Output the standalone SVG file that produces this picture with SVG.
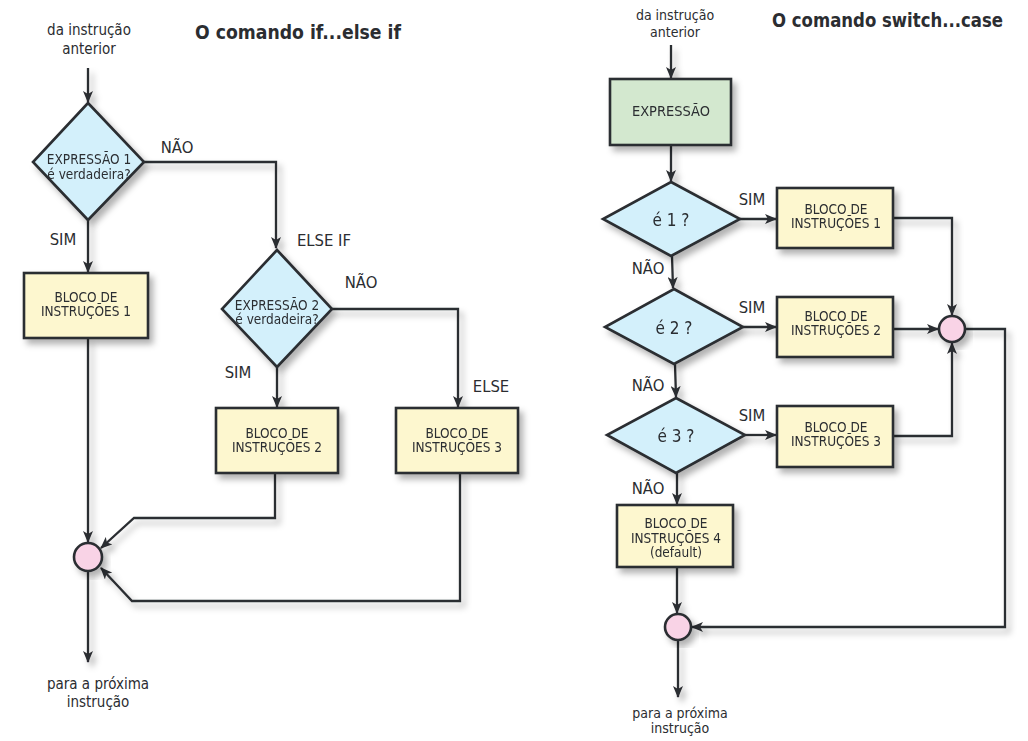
<svg xmlns="http://www.w3.org/2000/svg" width="1028" height="741" viewBox="0 0 1028 741">
<style>
text{font-family:"DejaVu Sans Condensed","DejaVu Sans","Liberation Sans",sans-serif;fill:#2b2d31;text-anchor:middle}
.t{font-size:15px}
.lb{font-size:16.5px}
.title{font-size:20px;font-weight:bold;text-anchor:start}
.bx{font-size:13.5px}
.dt{font-size:13.5px}
.q{font-size:17px}
.box{fill:#fdf7cf;stroke:#2b2d31;stroke-width:2.6}
.green{fill:#d3e8cf;stroke:#2b2d31;stroke-width:2.6}
.dia{fill:#d3f0fb;stroke:#2b2d31;stroke-width:2.6}
.cir{fill:#f9d3e6;stroke:#2b2d31;stroke-width:2.6}
.c{fill:none;stroke:#2b2d31;stroke-width:2.3;stroke-linejoin:miter}
.a{marker-end:url(#arr)}
</style>
<defs>
<filter id="sh" x="-30%" y="-30%" width="160%" height="160%">
<feDropShadow dx="4" dy="5" stdDeviation="3" flood-color="#000" flood-opacity="0.3"/>
</filter>
<marker id="arr" viewBox="0 0 12 10" refX="11" refY="5" markerWidth="12" markerHeight="10" markerUnits="userSpaceOnUse" orient="auto">
<path d="M0,0 L12,5 L0,10 L3,5 z" fill="#2b2d31"/>
</marker>
</defs>

<!-- Left: if...else if -->
<text class="title" x="195" y="39" textLength="206" lengthAdjust="spacingAndGlyphs">O comando if...else if</text>
<text class="t" x="89" y="35">da instrução</text>
<text class="t" x="89" y="54">anterior</text>

<g id="connectors-left" filter="url(#sh)">
<path class="c a" d="M88,68 L88,102"/>
<path class="c a" d="M144,162 L276,162 L276,248"/>
<path class="c a" d="M88,220 L88,272"/>
<path class="c a" d="M332,309 L458,309 L458,407"/>
<path class="c a" d="M277,367 L277,407"/>
<path class="c a" d="M88,338 L88,542"/>
<path class="c a" d="M275,473 L275,518 L134,518 L101,548"/>
<path class="c a" d="M460,473 L460,601 L132,601 L101,568"/>
<path class="c a" d="M88,571 L88,662"/>
</g>

<g id="dec1" filter="url(#sh)">
<polygon class="dia" points="88,103 144,162 88,220 33,162"/>
<text class="dt" x="89" y="164">EXPRESSÃO 1</text>
<text class="dt" x="89" y="179">é verdadeira?</text>
</g>
<text class="lb" x="177" y="153">NÃO</text>
<text class="lb" x="63" y="245">SIM</text>
<text class="lb" x="324" y="246">ELSE IF</text>

<g id="box1" filter="url(#sh)">
<rect class="box" x="24" y="273" width="124" height="65"/>
<text class="bx" x="86" y="302">BLOCO DE</text>
<text class="bx" x="86" y="316">INSTRUÇÕES 1</text>
</g>

<g id="dec2" filter="url(#sh)">
<polygon class="dia" points="277,250 332,309 277,367 222,309"/>
<text class="dt" x="277" y="310">EXPRESSÃO 2</text>
<text class="dt" x="277" y="324">é verdadeira?</text>
</g>
<text class="lb" x="361" y="288">NÃO</text>
<text class="lb" x="238" y="378">SIM</text>
<text class="lb" x="491" y="392">ELSE</text>

<g id="box2" filter="url(#sh)">
<rect class="box" x="216" y="408" width="122" height="65"/>
<text class="bx" x="277" y="438">BLOCO DE</text>
<text class="bx" x="277" y="452">INSTRUÇÕES 2</text>
</g>

<g id="box3" filter="url(#sh)">
<rect class="box" x="396" y="408" width="122" height="65"/>
<text class="bx" x="457" y="438">BLOCO DE</text>
<text class="bx" x="457" y="452">INSTRUÇÕES 3</text>
</g>

<g id="join-left" filter="url(#sh)">
<circle class="cir" cx="88" cy="557" r="14"/>
</g>
<text class="t" x="98" y="689">para a próxima</text>
<text class="t" x="98" y="707">instrução</text>

<!-- Right: switch...case -->
<text class="title" x="772" y="27" textLength="231" lengthAdjust="spacingAndGlyphs">O comando switch...case</text>
<text class="t" x="675" y="20" style="font-size:14px">da instrução</text>
<text class="t" x="675" y="37" style="font-size:14px">anterior</text>

<g id="connectors-right" filter="url(#sh)">
<path class="c a" d="M671,45 L671,78"/>
<path class="c a" d="M671,145 L671,181"/>
<path class="c a" d="M740,219 L776,219"/>
<path class="c a" d="M893,218 L952,218 L952,315"/>
<path class="c a" d="M672,256 L673,288"/>
<path class="c a" d="M743,327 L776,327"/>
<path class="c a" d="M893,329 L938,329"/>
<path class="c a" d="M965,329 L1005,329 L1005,627 L692,627"/>
<path class="c a" d="M675,364 L676,397"/>
<path class="c a" d="M745,435 L776,435"/>
<path class="c a" d="M893,436 L952,436 L952,343"/>
<path class="c a" d="M677,473 L677,504"/>
<path class="c a" d="M677,567 L677,613"/>
<path class="c a" d="M678,641 L678,697"/>
</g>

<g id="expr" filter="url(#sh)">
<rect class="green" x="610" y="79" width="121" height="66"/>
<text class="bx" x="671" y="116" style="font-size:14.5px">EXPRESSÃO</text>
</g>

<g id="case1" filter="url(#sh)">
<polygon class="dia" points="671,182 740,219 671,256 603,219"/>
<text class="q" x="671" y="226">é 1 ?</text>
</g>
<text class="lb" x="752" y="205">SIM</text>
<text class="lb" x="648" y="274">NÃO</text>

<g id="sbox1" filter="url(#sh)">
<rect class="box" x="777" y="188" width="116" height="60"/>
<text class="bx" x="836" y="214">BLOCO DE</text>
<text class="bx" x="836" y="228">INSTRUÇÕES 1</text>
</g>

<g id="case2" filter="url(#sh)">
<polygon class="dia" points="674,289 743,327 674,364 605,327"/>
<text class="q" x="674" y="334">é 2 ?</text>
</g>
<text class="lb" x="752" y="313">SIM</text>
<text class="lb" x="648" y="391">NÃO</text>

<g id="sbox2" filter="url(#sh)">
<rect class="box" x="777" y="297" width="116" height="60"/>
<text class="bx" x="836" y="321">BLOCO DE</text>
<text class="bx" x="836" y="335">INSTRUÇÕES 2</text>
</g>

<g id="join-right" filter="url(#sh)">
<circle class="cir" cx="952" cy="329" r="13"/>
</g>

<g id="case3" filter="url(#sh)">
<polygon class="dia" points="676,398 745,435 676,473 607,435"/>
<text class="q" x="676" y="442">é 3 ?</text>
</g>
<text class="lb" x="752" y="421">SIM</text>
<text class="lb" x="648" y="494">NÃO</text>

<g id="sbox3" filter="url(#sh)">
<rect class="box" x="777" y="406" width="116" height="61"/>
<text class="bx" x="836" y="432">BLOCO DE</text>
<text class="bx" x="836" y="446">INSTRUÇÕES 3</text>
</g>

<g id="sbox4" filter="url(#sh)">
<rect class="box" x="617" y="505" width="116" height="62"/>
<text class="bx" x="676" y="528">BLOCO DE</text>
<text class="bx" x="676" y="543">INSTRUÇÕES 4</text>
<text class="bx" x="676" y="557">(default)</text>
</g>

<g id="end-right" filter="url(#sh)">
<circle class="cir" cx="678" cy="627" r="13"/>
</g>
<text class="t" x="680" y="718" style="font-size:14px">para a próxima</text>
<text class="t" x="680" y="733" style="font-size:14px">instrução</text>
</svg>
